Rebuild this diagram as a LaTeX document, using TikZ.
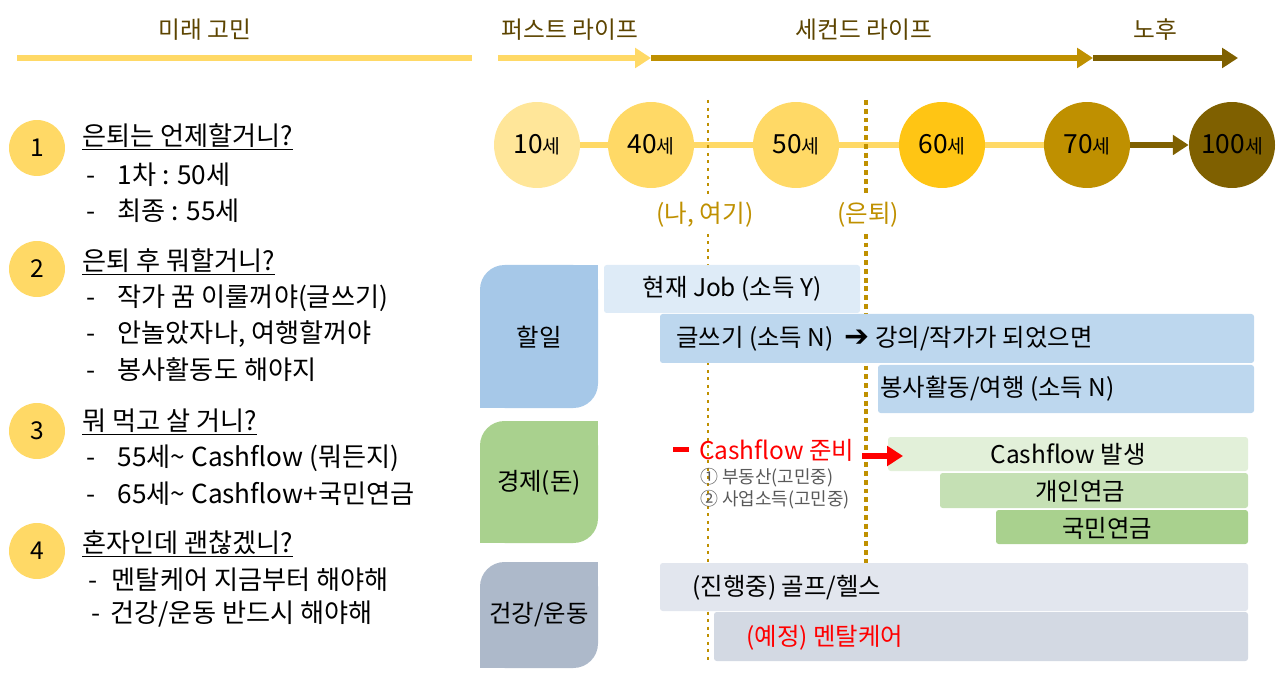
\documentclass[tikz,border=0pt]{standalone}
\usepackage{fontspec}
\setmainfont{Noto Sans CJK KR}
\newfontfamily\symfont{DejaVu Sans}
\usetikzlibrary{arrows.meta, positioning, calc}

\definecolor{lifelight}{HTML}{FFE699}
\definecolor{lifeyellow}{HTML}{FFD966}
\definecolor{lifegold}{HTML}{FFC514}
\definecolor{lifeochre}{HTML}{BF9000}
\definecolor{lifebrown}{HTML}{7F6000}
\definecolor{headtext}{HTML}{5C4400}
\definecolor{todofill}{HTML}{A6C8E8}
\definecolor{jobfill}{HTML}{DEEBF7}
\definecolor{planfill}{HTML}{BDD7EE}
\definecolor{econfill}{HTML}{A9D18E}
\definecolor{cashfill}{HTML}{E2F0D9}
\definecolor{privfill}{HTML}{C5E0B4}
\definecolor{healthfill}{HTML}{ADB9CA}
\definecolor{golffill}{HTML}{E2E6EE}
\definecolor{mindfill}{HTML}{D3D9E3}
\definecolor{notegray}{HTML}{595959}

\newcommand\sae{{\fontsize{11}{12}\selectfont 세}}

\tikzset{
  phase/.style={font=\fontsize{13.5}{15}\selectfont, text=headtext},
  agecirc/.style={circle, minimum size=1.72cm, inner sep=0pt, font=\fontsize{15}{16}\selectfont},
  numcirc/.style={circle, fill=lifeyellow, minimum size=1.12cm, inner sep=0pt, font=\fontsize{14}{15}\selectfont},
  question/.style={anchor=west, inner sep=0pt, font=\fontsize{14.9}{17}\selectfont},
  marklabel/.style={text=lifeochre, font=\fontsize{14}{15}\selectfont},
  bartext/.style={anchor=west, inner sep=0pt},
  note/.style={anchor=west, inner sep=0pt, text=notegray, font=\fontsize{10.2}{12}\selectfont},
  lifearrow/.style={line width=3.4pt, -{Triangle[length=9pt, width=11pt]}},
}

\begin{document}
\begin{tikzpicture}[x=0.02cm, y=-0.02cm, font=\fontsize{13.9}{16}\selectfont]
  \useasboundingbox (0,0) rectangle (1280,695);

  % 구간 헤더
  \node[phase] (worry) at (205,30) {미래 고민};
  \node[phase] (first) at (570,30) {퍼스트 라이프};
  \node[phase] (second) at (864,30) {세컨드 라이프};
  \node[phase] (old) at (1155,30) {노후};
  \coordinate (wl) at (17,58);
  \coordinate (wr) at (472,58);
  \coordinate (f0) at (498,58);
  \coordinate (f1) at (651,58);
  \coordinate (s1) at (1093,58);
  \coordinate (o1) at (1238,58);
  \draw[lifeyellow, line width=3.4pt] (wl) -- (wr);
  \draw[lifearrow, lifebrown] (s1) -- (o1);
  \draw[lifearrow, lifeochre] (f1) -- (s1);
  \draw[lifearrow, lifeyellow] (f0) -- (f1);

  % 나이 타임라인
  \node[agecirc, fill=lifelight] (a10) at (537,145) {10\sae};
  \node[agecirc, fill=lifeyellow] (a40) at (651,145) {40\sae};
  \node[agecirc, fill=lifeyellow] (a50) at (796,145) {50\sae};
  \node[agecirc, fill=lifegold] (a60) at (942,145) {60\sae};
  \node[agecirc, fill=lifeochre] (a70) at (1087,145) {70\sae};
  \node[agecirc, fill=lifebrown] (a100) at (1232,145) {100\sae};
  \foreach \a/\b in {a10/a40, a40/a50, a50/a60, a60/a70}
    \draw[lifeyellow, line width=3.4pt] (\a) -- (\b);
  \draw[lifearrow, lifebrown] (a70) -- (a100);

  % 기준선
  \node[marklabel] (nowlbl) at (705,215) {(나, 여기)};
  \node[marklabel] (retlbl) at (868,215) {(은퇴)};
  \coordinate (nowtop) at (708,100);
  \coordinate (nowbot) at (708,664);
  \coordinate (rettop) at (866,100);
  \coordinate (retbot) at (866,664);
  \draw[lifeochre, line width=1.5pt, dash pattern=on 1.7pt off 2.6pt] (nowtop) -- (nowlbl.north -| nowtop);
  \draw[lifeochre, line width=1.5pt, dash pattern=on 1.7pt off 2.6pt] (nowlbl.south -| nowbot) -- (nowbot);
  \draw[lifeochre, line width=2.8pt, dash pattern=on 2.8pt off 2.2pt] (rettop) -- (retlbl.north -| rettop);
  \draw[lifeochre, line width=2.8pt, dash pattern=on 2.8pt off 2.2pt] (retlbl.south -| retbot) -- (retbot);

  % 왼쪽 질문
  \node[numcirc] (n1) at (37,148) {1};
  \node[question] (q1) at (82,137) {\underline{은퇴는 언제할거니?}};
  \node[question] (q1a) at (86,175) {\makebox[1.2em][l]{-}1차 : 50세};
  \node[question] (q1b) at (86,211) {\makebox[1.2em][l]{-}최종 : 55세};
  \node[numcirc] (n2) at (37,269) {2};
  \node[question] (q2) at (82,262) {\underline{은퇴 후 뭐할거니?}};
  \node[question] (q2a) at (86,298) {\makebox[1.2em][l]{-}작가 꿈 이룰꺼야(글쓰기)};
  \node[question] (q2b) at (86,334) {\makebox[1.2em][l]{-}안놀았자나, 여행할꺼야};
  \node[question] (q2c) at (86,370) {\makebox[1.2em][l]{-}봉사활동도 해야지};
  \node[numcirc] (n3) at (37,431) {3};
  \node[question] (q3) at (82,422) {\underline{뭐 먹고 살 거니?}};
  \node[question] (q3a) at (86,458) {\makebox[1.2em][l]{-}55세\textasciitilde{} Cashflow (뭐든지)};
  \node[question] (q3b) at (86,494) {\makebox[1.2em][l]{-}65세\textasciitilde{} Cashflow+국민연금};
  \node[numcirc] (n4) at (37,551) {4};
  \node[question] (q4) at (82,544) {\underline{혼자인데 괜찮겠니?}};
  \node[question] (q4a) at (88,580) {\makebox[0.9em][l]{-}멘탈케어 지금부터 해야해};
  \node[question] (q4b) at (91,614) {\makebox[0.72em][l]{-}건강/운동 반드시 해야해};

  % 할일
  \fill[todofill, rounded corners=14pt] (480,265) rectangle (598,408);
  \fill[todofill] (550,265) rectangle (598,310);
  \fill[todofill] (480,360) rectangle (530,408);
  \node (todo) at (539,337) {할일};
  \fill[jobfill, rounded corners=1.5pt] (604,265) rectangle (860,313) node[midway, text=black] (job) {현재 Job (소득 Y)};
  \fill[planfill, rounded corners=1.5pt] (660,314) rectangle (1254,363);
  \node[bartext] (write) at (676,339) {글쓰기 (소득 N) \ {\symfont\fontsize{17}{17}\selectfont ➔} 강의/작가가 되었으면};
  \fill[planfill, rounded corners=1.5pt] (878,365) rectangle (1254,413);
  \node[bartext] (volunteer) at (880,389) {봉사활동/여행 (소득 N)};

  % 경제(돈)
  \fill[econfill, rounded corners=14pt] (480,421) rectangle (598,543);
  \fill[econfill] (550,421) rectangle (598,465);
  \fill[econfill] (480,500) rectangle (530,543);
  \node (econ) at (539,483) {경제(돈)};
  \node[bartext, text=red] (cfprep) at (673,450) {\rule[0.28em]{0.65em}{0.22em}\hspace{0.4em}Cashflow 준비};
  \node[note] (realty) at (700,478) {① 부동산(고민중)};
  \node[note] (biz) at (700,500) {② 사업소득(고민중)};
  \fill[cashfill, rounded corners=1.5pt] (888,437) rectangle (1248,471) node[midway, text=black] (cf) {Cashflow 발생};
  \fill[privfill, rounded corners=1.5pt] (940,473) rectangle (1248,508);
  \node (priv) at (1080,491) {개인연금};
  \fill[econfill, rounded corners=1.5pt] (996,510) rectangle (1248,544);
  \node (natl) at (1107,528) {국민연금};
  \coordinate (cfs) at (862,456);
  \coordinate (cfe) at (903,456);
  \draw[red, line width=3.4pt, -{Triangle[length=9pt, width=11pt]}] (cfs) -- (cfe);

  % 건강/운동
  \fill[healthfill, rounded corners=14pt] (480,562) rectangle (598,668);
  \fill[healthfill] (550,562) rectangle (598,600);
  \fill[healthfill] (480,630) rectangle (530,668);
  \node (health) at (539,615) {건강/운동};
  \fill[golffill, rounded corners=1.5pt] (660,563) rectangle (1248,611);
  \node[bartext] (golf) at (692,588) {(진행중) 골프/헬스};
  \fill[mindfill, rounded corners=1.5pt] (714,612) rectangle (1248,661);
  \node[bartext, text=red] (mind) at (746,638) {(예정) 멘탈케어};
\end{tikzpicture}
\end{document}
